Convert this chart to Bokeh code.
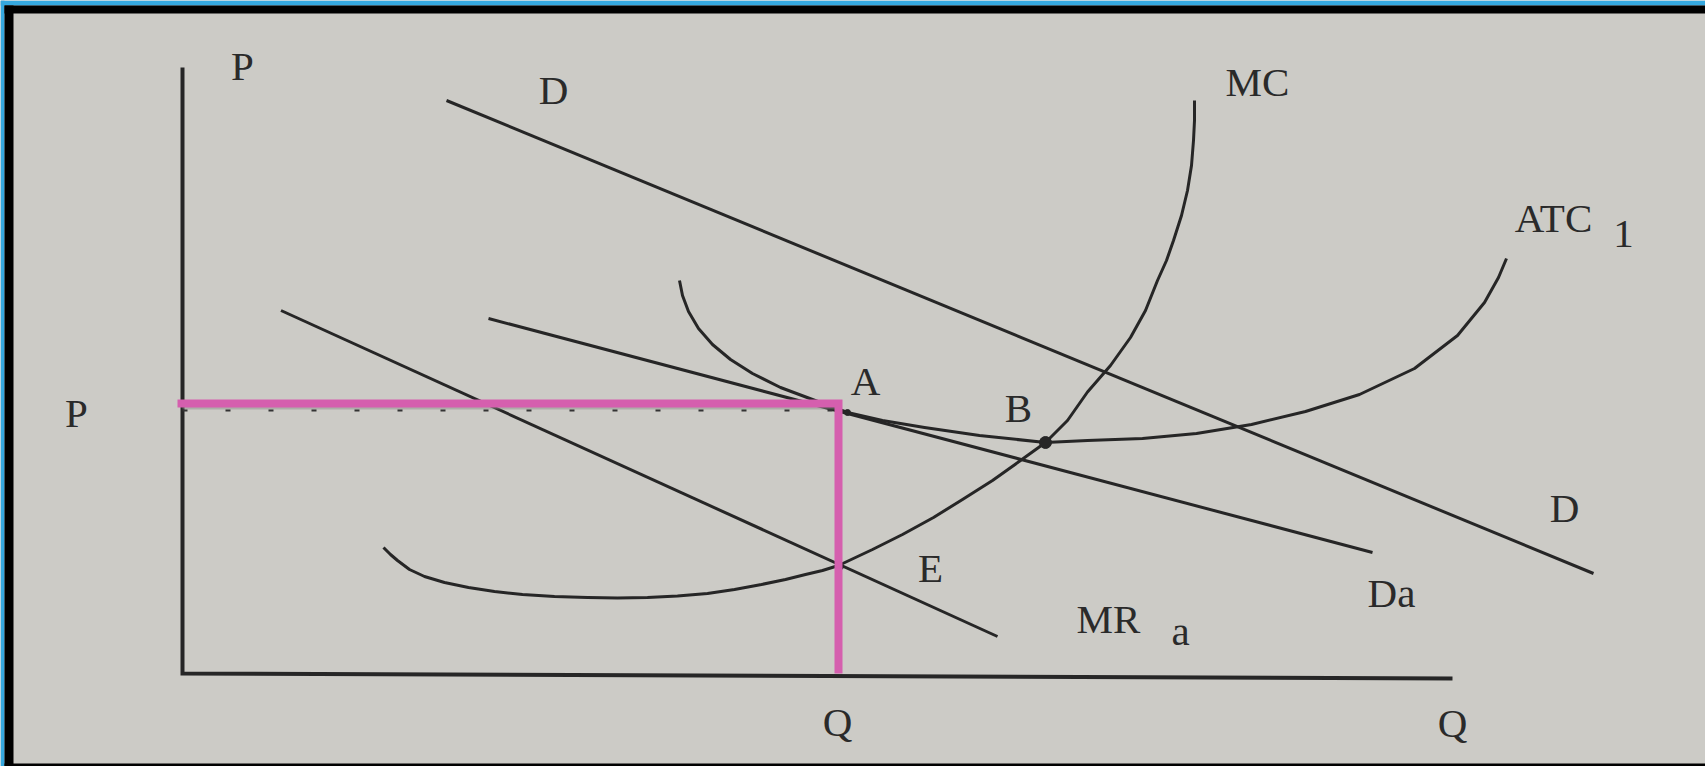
from bokeh.plotting import figure
from bokeh.models import Range1d
from bokeh.core.properties import value
from bokeh.embed import file_html
from bokeh.resources import INLINE

# ---- data (Q = quantity, P = price, arbitrary diagram units) ----
axis_q = [0.0, 0.0, 12.70]
axis_p = [6.06, 0.0, -0.05]

d_q = [2.64, 14.11]
d_p = [5.73, 1.00]

da_q = [3.06, 11.90]
da_p = [3.55, 1.21]

mr_q = [0.985, 8.15]
mr_p = [3.63, 0.37]

mc_q = [2.01, 2.08, 2.15, 2.27, 2.42, 2.62, 2.86, 3.12, 3.40, 3.72, 4.05, 4.35,
        4.65, 4.95, 5.25, 5.52, 5.79, 6.03, 6.23, 6.40, 6.56,
        6.90, 7.20, 7.51, 7.80, 8.10, 8.38, 8.63, 8.85, 9.05, 9.28, 9.48,
        9.63, 9.75, 9.84, 9.91, 9.99, 10.05, 10.09, 10.11, 10.12, 10.12]
mc_p = [1.26, 1.19, 1.13, 1.04, 0.97, 0.91, 0.86, 0.82, 0.79, 0.77, 0.76, 0.755,
        0.76, 0.775, 0.80, 0.84, 0.89, 0.94, 0.99, 1.03, 1.08,
        1.24, 1.39, 1.56, 1.74, 1.93, 2.13, 2.31, 2.53, 2.815, 3.08, 3.36,
        3.63, 3.93, 4.13, 4.33, 4.58, 4.83, 5.08, 5.33, 5.53, 5.73]

atc_q = [4.97, 5.00, 5.06, 5.16, 5.30, 5.48, 5.70, 5.98, 6.30, 6.65, 7.00, 7.42,
         7.97, 8.63, 9.05, 9.60, 10.14, 10.69, 11.23, 11.77, 12.32, 12.75,
         13.02, 13.16, 13.24]
atc_p = [3.93, 3.78, 3.62, 3.45, 3.29, 3.14, 3.00, 2.86, 2.74, 2.61, 2.53, 2.46,
         2.38, 2.31, 2.33, 2.35, 2.40, 2.49, 2.62, 2.79, 3.05, 3.38,
         3.71, 3.96, 4.15]

p_level = 2.70      # price P
q_level = 6.56      # quantity Q
dot_level = 2.63    # dotted guide under the pink line

point_q = [6.65, 8.63, 6.58]   # A, B, E
point_p = [2.61, 2.31, 1.07]

labels = ["P", "D", "MC", "ATC", "1", "P", "A", "B", "E", "D", "Da", "MR", "a", "Q", "Q"]
label_q = [0.60, 3.71, 10.75, 13.71, 14.41, -1.06, 6.83, 8.36, 7.48, 13.82, 12.09, 9.26, 9.98, 6.55, 12.70]
label_p = [6.08, 5.84, 5.92, 4.56, 4.40, 2.61, 2.93, 2.66, 1.06, 1.66, 0.81, 0.55, 0.43, -0.48, -0.49]

# ---- page geometry (pixels) ----
W, H = 1705, 766
OX, OY, SCALE = 182.0, 673.0, 100.0   # origin pixel and pixels per unit


def qx(px):
    return (px - OX) / SCALE


def py(px):
    return (OY - px) / SCALE


INK = "#262626"
p = figure(width=W, height=H, output_backend="svg", toolbar_location=None,
           x_range=Range1d(qx(0), qx(W)), y_range=Range1d(py(H), py(0)),
           x_axis_type=None, y_axis_type=None,
           min_border_left=0, min_border_top=0, min_border_right=0, min_border_bottom=0,
           background_fill_color="#cccbc6", border_fill_color="#cccbc6")
p.outline_line_color = None

# photo frame: blue edge + black border
BLUE = "#35a8df"
p.quad(left=[qx(0), qx(0)], right=[qx(4), qx(W)], top=[py(0), py(0)], bottom=[py(H), py(5)],
       fill_color=BLUE, line_color=None)
p.quad(left=[qx(4), qx(4), qx(4)], right=[qx(13), qx(W), qx(W)],
       top=[py(5), py(5), py(763)], bottom=[py(H), py(13), py(H)],
       fill_color="black", line_color=None)

# axes
p.line(axis_q, axis_p, line_color=INK, line_width=4, line_join="miter")

# demand / revenue lines
p.line(d_q, d_p, line_color=INK, line_width=3)
p.line(da_q, da_p, line_color=INK, line_width=3)
p.line(mr_q, mr_p, line_color=INK, line_width=3)

# cost curves
p.line(mc_q, mc_p, line_color=INK, line_width=3, line_join="round")
p.line(atc_q, atc_p, line_color=INK, line_width=3, line_join="round")

# points
p.scatter(point_q[1:2], point_p[1:2], size=12, color=INK)
p.scatter([point_q[0], point_q[2]], [point_p[0], point_p[2]], size=6, color=INK)

# dotted guide + shadow under pink line
p.line([0, q_level], [dot_level + 0.03, dot_level + 0.03], line_color="#8a8a86", line_width=4, line_alpha=0.45)
p.line([0, q_level], [dot_level, dot_level], line_color="#333333", line_width=2, line_dash="5 38")

# pink highlight
p.line([-0.05, q_level, q_level], [p_level, p_level, 0], line_color="#d55fae",
       line_width=8, line_join="miter")

# labels
p.text(x=label_q, y=label_p, text=labels, text_font=value("Liberation Serif"),
       text_font_size=value("41px"), text_color="#2a2a2a",
       text_align="center", text_baseline="alphabetic")

open("out.html", "w").write(file_html(p, INLINE))
